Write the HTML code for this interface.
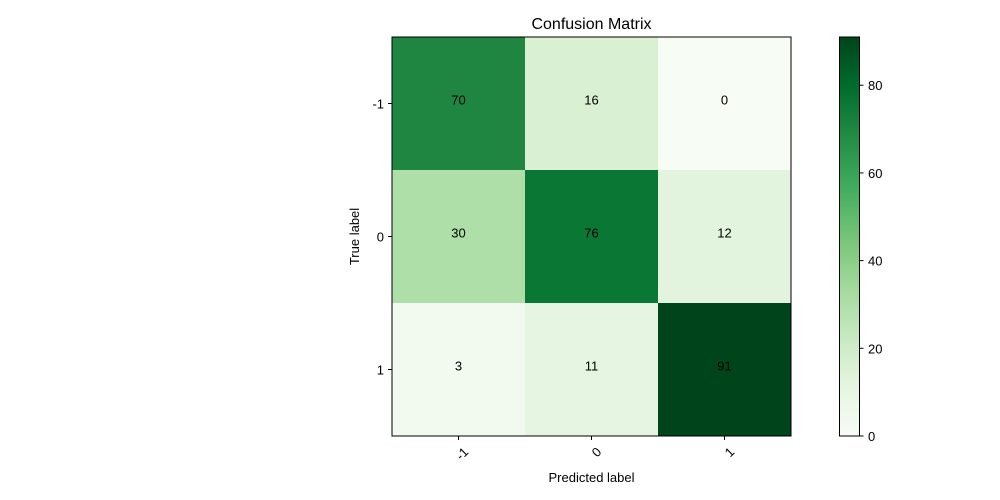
<!DOCTYPE html>
<html><head><meta charset="utf-8"><style>
body{margin:0;background:#fff;}
svg{display:block;font-family:"Liberation Sans","DejaVu Sans",sans-serif;}
</style></head><body>
<svg id="chart" width="1000" height="500">
<defs><linearGradient id="cbgrad" x1="0" y1="1" x2="0" y2="0">
<stop offset="0" stop-color="#f7fcf5"/><stop offset="0.125" stop-color="#e5f5e0"/><stop offset="0.25" stop-color="#c7e9c0"/><stop offset="0.375" stop-color="#a1d99b"/><stop offset="0.5" stop-color="#74c476"/><stop offset="0.625" stop-color="#41ab5d"/><stop offset="0.75" stop-color="#238b45"/><stop offset="0.875" stop-color="#006d2c"/><stop offset="1" stop-color="#00441b"/>
</linearGradient></defs>
<g id="cells"></g>
<rect x="392" y="37" width="399" height="399" fill="none" stroke="#000" stroke-width="1"/>
<text x="591.5" y="29" text-anchor="middle" font-size="16">Confusion Matrix</text>
<text x="591.5" y="482" text-anchor="middle" font-size="13">Predicted label</text>
<text transform="translate(359,236.5) rotate(-90)" text-anchor="middle" font-size="13">True label</text>
<rect x="839.5" y="37" width="20" height="399" fill="url(#cbgrad)" stroke="#000" stroke-width="1"/>
<g id="ticks"></g>
</svg>
<script>
const categories = ["-1","0","1"];
const values = [[70,16,0],[30,76,12],[3,11,91]];
const cbTicks = [0,20,40,60,80];
const vmin = 0, vmax = 91;
const stops = ["#f7fcf5","#e5f5e0","#c7e9c0","#a1d99b","#74c476","#41ab5d","#238b45","#006d2c","#00441b"];
const NS = "http://www.w3.org/2000/svg";
const x0 = 392, y0 = 37, size = 399, cell = size / categories.length;
const cbY = v => 436 - (v - vmin) / (vmax - vmin) * 399;
function color(v){
  let t = (v - vmin) / (vmax - vmin) * (stops.length - 1);
  let i = Math.min(Math.floor(t), stops.length - 2), f = t - i;
  const a = stops[i], b = stops[i+1];
  const c = k => Math.round(parseInt(a.substr(k,2),16)*(1-f) + parseInt(b.substr(k,2),16)*f);
  return `rgb(${c(1)},${c(3)},${c(5)})`;
}
function mk(tag, attrs, parent, txt){
  const e = document.createElementNS(NS, tag);
  for (const k in attrs) e.setAttribute(k, attrs[k]);
  if (txt !== undefined) e.textContent = txt;
  parent.appendChild(e); return e;
}
const cg = document.getElementById('cells');
const tg = document.getElementById('ticks');
values.forEach((row, r) => row.forEach((v, c) => {
  const rect = mk('rect', {x: x0 + c*cell, y: y0 + r*cell, width: cell+0.5, height: cell+0.5, fill: color(v)}, cg);
  
  
  const t = mk('text', {x: x0 + (c+0.5)*cell, y: y0 + (r+0.5)*cell + 1, 'text-anchor': 'middle', 'font-size': 13}, cg, String(v));
  
  
}));
categories.forEach((lab, i) => {
  const cx = x0 + (i+0.5)*cell, cy = y0 + (i+0.5)*cell;
  mk('line', {x1: cx, y1: 436, x2: cx, y2: 440, stroke: '#000'}, tg);
  const xt = mk('text', {transform: `translate(${cx+4},${446}) rotate(-45)`, 'text-anchor': 'end', 'font-size': 13, 'dominant-baseline': 'hanging'}, tg, lab);
  
  
  mk('line', {x1: 388, y1: cy, x2: 392, y2: cy, stroke: '#000'}, tg);
  const yt = mk('text', {x: 384, y: cy + 5, 'text-anchor': 'end', 'font-size': 13}, tg, lab);
  
  
});
cbTicks.forEach(v => {
  const y = cbY(v);
  mk('line', {x1: 859.5, y1: y, x2: 863.5, y2: y, stroke: '#000'}, tg);
  const t = mk('text', {x: 868, y: y + 5, 'font-size': 13}, tg, String(v));
  
  
});
</script>
</body></html>
